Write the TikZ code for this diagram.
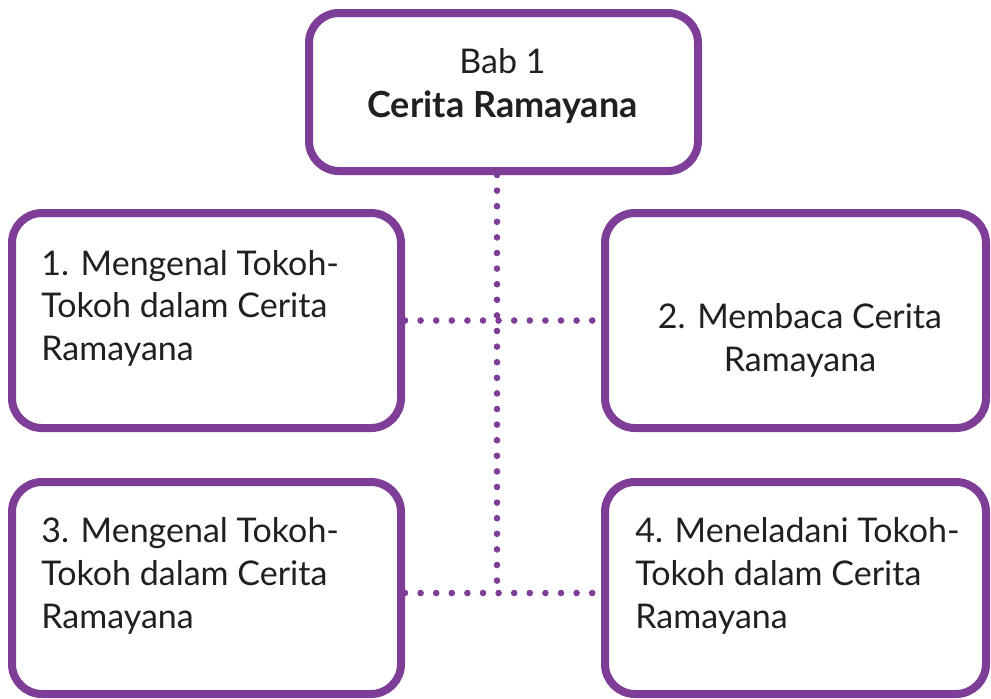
\documentclass[tikz,border=0pt]{standalone}
\usepackage{fontspec}
\setmainfont{Lato}
\usetikzlibrary{positioning}
\definecolor{ungu}{RGB}{126,61,151}
\definecolor{tinta}{RGB}{35,31,32}

\begin{document}
\begin{tikzpicture}[x=0.5pt,y=-0.5pt]
          \tikzstyle{every node} = [font=\fontsize{17}{21.25}\selectfont, text=tinta, inner sep=0pt];
          \tikzstyle{kotak} = [draw=ungu, line width=4pt, rounded corners=15pt, fill=white, minimum width=194.5pt, minimum height=107.5pt];
          \tikzstyle{titik} = [ungu, line width=3.3pt, line cap=round, dash pattern=on 0pt off 7.8pt];
          \useasboundingbox (0,0) rectangle (991,698);
          % kotak
          \node[kotak, minimum height=79pt](bab) at (503.5,92) {};
          \node[kotak](s1) at (206.5,320.5) {};
          \node[kotak, minimum width=190.5pt](s2) at (795.5,320.5) {};
          \node[kotak, minimum height=106pt](s3) at (206.5,588) {};
          \node[kotak, minimum width=190.5pt, minimum height=106pt](s4) at (795.5,588) {};
          \coordinate (j) at (497,593);
          % garis titik-titik
          \draw[titik] (bab.south -| j) -- (j);
          \draw[titik] (s1) -- (s2);
          \draw[titik] (s3.east |- j) -- (s4.west |- j);
          % teks
          \node[anchor=base](t0a) at (502.5,73) {Bab 1};
          \node[anchor=base, font=\fontsize{18}{21.25}\selectfont\bfseries](t0b) at (502.5,117) {Cerita Ramayana};
          \node[anchor=base west](t1a) at (41,275) {1. Mengenal Tokoh-};
          \node[anchor=base west](t1b) at (41,317) {Tokoh dalam Cerita};
          \node[anchor=base west](t1c) at (41,360) {Ramayana};
          \node[anchor=base](t2a) at (800,328) {2. Membaca Cerita};
          \node[anchor=base](t2b) at (800,371) {Ramayana};
          \node[anchor=base west](t3a) at (41,542) {3. Mengenal Tokoh-};
          \node[anchor=base west](t3b) at (41,585) {Tokoh dalam Cerita};
          \node[anchor=base west](t3c) at (41,628) {Ramayana};
          \node[anchor=base west](t4a) at (635,542) {4. Meneladani Tokoh-};
          \node[anchor=base west](t4b) at (635,585) {Tokoh dalam Cerita};
          \node[anchor=base west](t4c) at (635,628) {Ramayana};
\end{tikzpicture}
\end{document}
